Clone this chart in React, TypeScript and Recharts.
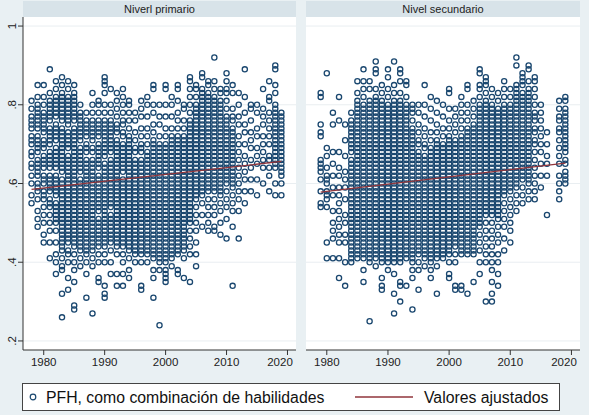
import { ScatterChart, Scatter, XAxis, YAxis, CartesianGrid } from 'recharts';

// Años (eje x) de cada columna de puntos
const years = [
  1978, 1979, 1980, 1981, 1982, 1983, 1984, 1985, 1986, 1987, 1988, 1989, 1990, 1991,
  1992, 1993, 1994, 1995, 1996, 1997, 1998, 1999, 2000, 2001, 2002, 2003, 2004, 2005,
  2006, 2007, 2008, 2009, 2010, 2011, 2012, 2013, 2014, 2015, 2016, 2017, 2018, 2019,
];

// PFH en centésimas, una cadena por año (mismo orden que years)
const primario = [
  '81 79 77 76 75 74 72 71 70 68 67 65 64 62 60 57 55',
  '85 82 80 79 78 77 76 75 74 72 71 70 69 68 66 65 64 63 62 60 59 58 56 53 51 49',
  '85 82 80 78 77 76 75 74 73 71 70 69 67 66 65 64 62 61 60 58 57 56 54 52 50 47 45',
  '89 83 81 80 79 78 77 76 74 73 72 71 70 68 67 66 65 64 62 61 60 59 58 56 55 54 52 50 48 45 41',
  '86 84 82 81 80 79 78 77 75 74 73 72 71 69 68 67 66 65 64 62 61 60 59 58 57 55 54 53 52 51 50 48 45 42 40 37',
  '87 85 83 82 81 80 79 78 77 76 74 73 72 71 70 69 68 67 66 65 64 63 61 60 59 58 57 56 55 54 53 52 51 50 49 48 47 46 45 44 43 41 39 38 32 26',
  '86 84 82 81 80 79 78 77 76 75 73 72 71 70 69 67 66 65 64 63 62 61 60 59 58 57 56 55 54 53 52 51 50 49 48 47 46 45 43 42 40 36 33',
  '85 83 82 81 80 79 78 77 76 74 73 72 71 70 69 68 67 66 65 64 63 62 61 60 59 58 57 56 55 54 53 52 51 50 49 48 47 46 45 44 42 40 38 35 29 28',
  '80 78 77 76 75 74 73 72 71 69 68 67 66 65 64 63 61 60 59 58 57 56 55 54 53 52 51 50 49 48 47 46 45 44 43 41 39',
  '78 76 75 74 73 72 70 69 68 66 65 64 63 62 61 60 59 58 57 56 55 54 53 52 51 50 49 48 47 46 45 44 43 42 40 37 31',
  '83 80 78 76 75 74 73 72 71 69 68 66 65 64 63 62 61 60 59 58 57 56 55 54 53 52 51 50 49 48 47 46 45 44 43 41 39 27',
  '81 80 78 76 75 74 73 72 70 69 68 67 66 65 64 62 61 60 59 58 57 56 55 54 53 51 50 49 48 47 46 45 44 42 40 36 35',
  '87 86 85 83 80 78 76 75 74 73 72 71 70 69 68 67 65 64 63 62 61 60 59 58 57 56 55 54 53 52 51 50 49 48 47 46 45 44 42 40 34 32 31',
  '84 80 78 76 75 74 73 72 71 70 69 68 66 65 64 63 62 61 60 59 58 57 56 55 54 52 51 50 49 48 47 46 45 43 40 37',
  '83 81 79 77 75 74 73 71 70 69 68 67 66 65 64 63 62 61 60 59 58 57 56 55 54 53 52 51 50 49 48 47 46 45 44 42 37 34',
  '84 82 80 78 76 75 73 72 70 69 68 67 66 65 64 63 61 60 59 58 57 56 55 54 53 52 51 50 49 48 47 46 45 44 42 40 37 34',
  '81 80 78 76 74 72 71 70 69 68 67 66 65 64 63 62 61 60 59 58 57 56 55 54 53 52 51 50 49 48 47 46 45 44 43 41 38 36',
  '78 76 73 71 69 68 66 65 64 63 62 61 60 59 58 57 56 55 54 53 52 51 50 49 48 47 46 45 44 43 42 40',
  '81 79 77 74 72 70 69 68 66 65 64 63 62 61 60 59 58 57 56 55 54 53 52 51 50 49 48 47 46 45 44 43 42 40 34 33',
  '82 80 77 74 72 70 68 67 66 65 64 63 62 61 60 59 58 57 56 55 54 53 52 51 50 49 48 47 46 45 44 43 42 40',
  '85 84 80 78 75 73 71 70 69 68 67 66 65 64 63 62 61 60 59 58 57 56 55 54 53 52 51 50 49 48 47 46 45 44 43 42 41 38 36 31',
  '80 77 75 72 70 69 68 67 66 65 64 63 62 61 60 59 58 57 56 55 54 53 52 51 50 49 48 47 46 45 44 43 42 41 40 38 24',
  '85 84 80 77 74 72 70 69 68 67 66 65 64 63 62 61 60 59 58 57 56 55 54 53 52 51 50 49 48 47 46 45 44 43 42 41 40 38 37 36 35',
  '82 80 77 74 72 71 70 69 68 67 66 65 64 63 62 61 60 59 58 57 56 55 54 53 52 51 50 49 48 47 46 45 44 43 42 41 39',
  '85 84 81 78 76 74 72 71 70 69 68 67 66 65 64 63 62 61 60 59 58 57 56 55 54 53 52 51 50 49 48 47 46 45 44 43 42 38 37',
  '80 79 76 74 72 71 70 69 68 67 66 65 64 63 62 61 60 59 58 57 56 55 54 53 52 51 50 49 48 47 46 45 44 43 41 36',
  '87 86 84 82 80 78 76 75 74 73 72 71 70 69 68 67 66 65 64 63 62 61 60 59 58 57 56 55 54 53 52 51 50 48 46 44 42 35',
  '85 84 82 80 79 78 77 76 75 74 73 72 71 70 69 68 67 66 65 64 63 62 61 60 59 58 57 56 54 52 50 48 45 42 39',
  '88 87 84 83 82 81 80 79 78 77 76 75 74 73 72 71 70 69 68 67 66 65 64 63 62 61 60 59 58 57 55 52 49',
  '86 85 83 82 81 80 79 78 77 76 75 74 73 72 71 70 69 68 67 66 65 64 63 62 61 60 59 58 56 54 52 50 48',
  '92 86 84 82 81 80 79 78 77 76 75 74 73 72 71 70 69 68 67 66 65 64 63 62 61 60 59 58 56 54 52 49 48',
  '84 83 81 80 79 78 77 76 75 74 73 72 71 70 69 68 67 66 65 64 63 62 61 60 59 58 57 55 53 50 47',
  '88 86 84 83 81 79 77 76 75 74 73 72 71 70 69 68 67 66 65 64 63 62 61 60 58 56 54 51 46',
  '85 83 79 77 76 74 73 72 71 70 69 68 67 66 65 64 63 62 61 60 59 57 55 53 49 34',
  '83 80 77 75 72 70 68 66 64 62 60 58 56 53 46',
  '89 82 78 75 73 70 67 65 63 61 58 55',
  '80 79 76 73 71 69 66 64 61 58',
  '80 78 74 72 69 67 65 61 57',
  '84 79 77 75 72 70 68 66 64 60',
  '86 82 81 78 76 74 72 70 67 66 64 62 58',
  '90 89 85 83 80 79 78 77 76 75 74 73 72 71 70 69 68 67 66 65 64 60 57',
  '78 77 76 75 74 73 72 71 70 69 68 67 66 65 64 63 62 60 57',
];

const secundario = [
  '',
  '83 82 75 73 72 66 65 64 63 61 58 55 54',
  '88 69 67 64 62 61 60 58 57 56 54 45 41',
  '78 75 68 65 62 59 57 53 50 48 46 41',
  '82 76 68 64 62 59 57 55 53 51 49 47 45 41 36',
  '75 71 67 63 61 59 56 52 50 47 45 40 34',
  '78 76 75 74 73 72 71 70 69 68 66 65 64 63 62 61 60 59 58 57 56 55 54 53 52 51 50 49 48 47 46 45 44 43 42 41 40',
  '86 83 81 80 79 78 77 76 75 74 73 72 71 70 69 68 67 66 65 64 63 62 61 60 59 58 57 56 55 54 53 52 51 50 49 48 47 46 45 44 43 42 41',
  '89 86 84 82 80 79 78 77 76 75 74 73 72 71 70 69 68 67 66 65 64 63 62 61 60 59 58 57 56 55 54 53 52 51 50 49 48 47 46 45 44 43 42 41 38 35',
  '86 84 81 80 79 78 77 76 75 74 73 72 71 70 69 68 67 66 65 64 63 62 61 60 59 58 57 56 55 54 53 52 51 50 49 48 47 46 45 44 43 42 41 40 25',
  '91 89 88 84 82 81 80 79 78 77 76 75 74 73 72 71 70 69 68 67 66 65 64 63 62 61 60 59 58 57 56 55 54 53 52 51 50 49 48 47 46 45 44 43 42 41 39',
  '85 83 81 80 79 78 77 76 75 74 73 72 71 70 69 68 67 66 65 64 63 62 61 60 59 58 57 56 55 54 53 52 51 50 49 48 47 46 45 44 43 42 41 40 36 34 33',
  '89 87 84 82 80 79 78 77 76 75 74 73 72 71 70 69 68 67 66 65 64 63 62 61 60 59 58 57 56 55 54 53 52 51 50 49 48 47 46 45 44 43 42 41 40 38',
  '91 85 83 81 80 79 78 77 76 75 74 73 72 71 70 69 68 67 66 65 64 63 62 61 60 59 58 57 56 55 54 53 52 51 50 49 48 47 46 45 44 43 42 41 40 37 32 27',
  '89 88 86 83 81 80 79 78 77 76 75 74 73 72 71 70 69 68 67 66 65 64 63 62 61 60 59 58 57 56 55 54 53 52 51 50 49 48 47 46 45 44 43 42 41 40 35 34 30',
  '86 85 82 80 79 78 77 76 75 74 73 72 71 70 69 68 67 66 65 64 63 62 61 60 59 58 57 56 55 54 53 52 51 50 49 48 47 46 45 44 43 42 41 34',
  '80 79 78 76 74 73 72 71 70 69 68 67 66 65 64 63 62 61 60 59 58 57 56 55 54 53 52 51 50 49 48 47 46 45 44 43 42 41 40 38 36 28',
  '80 78 75 73 71 70 68 67 66 65 64 63 62 61 60 59 58 57 56 55 54 53 52 51 50 49 48 47 46 45 44 43 42 40 38 33',
  '85 80 77 74 72 70 69 67 66 65 64 63 62 61 60 59 58 57 56 55 54 53 52 51 50 49 48 47 46 45 44 43 42 41 39',
  '82 79 76 73 71 69 68 67 66 65 64 63 62 61 60 59 58 57 56 55 54 53 52 51 50 49 48 47 46 45 44 43 42 41 40 38 36',
  '81 78 75 73 71 70 69 68 67 66 65 64 63 62 61 60 59 58 57 56 55 54 53 52 51 50 49 48 47 46 45 44 43 42 41 39 32',
  '80 77 74 72 70 69 68 67 66 65 64 63 62 61 60 59 58 57 56 55 54 53 52 51 50 49 48 47 46 45 44 43 42 41',
  '84 83 79 76 74 72 71 70 69 68 67 66 65 64 63 62 61 60 59 58 57 56 55 54 53 52 51 50 49 48 47 46 45 44 43 42 40 37 36',
  '79 77 75 73 71 70 69 68 67 66 65 64 63 62 61 60 59 58 57 56 55 54 53 52 51 50 49 48 47 46 45 44 42 40 34 33',
  '82 80 78 76 74 72 71 70 69 68 67 66 65 64 63 62 61 60 59 58 57 56 55 54 53 52 51 50 49 48 47 46 45 44 43 42 34 33',
  '85 84 80 78 76 74 73 72 71 70 69 68 67 66 65 64 63 62 61 60 59 58 57 56 55 54 53 52 51 50 49 48 47 46 45 44 43 42 32',
  '81 79 77 75 74 73 72 71 70 69 68 67 66 65 64 63 62 61 60 59 58 57 56 55 54 53 52 51 50 49 48 47 46 45 44 43 42 35',
  '89 88 85 84 82 80 79 78 77 76 75 74 73 72 71 70 69 68 67 66 65 64 63 62 61 60 59 58 57 56 55 54 53 52 51 50 49 47 45 43 40 37',
  '87 86 85 83 81 80 79 78 77 76 75 74 73 72 71 70 69 68 67 66 65 64 63 62 61 60 59 58 57 56 55 54 53 52 50 48 46 44 42 40 30',
  '84 82 80 79 78 77 76 75 74 73 72 71 70 69 68 67 66 65 64 63 62 61 60 59 58 57 56 55 54 53 52 50 48 46 44 42 40 38 35 32 30',
  '83 81 79 78 77 76 75 74 73 72 71 70 69 68 67 66 65 64 63 62 61 60 59 58 57 56 55 54 53 52 51 49 47 45 42 40 37 34',
  '86 84 82 80 79 78 77 76 75 74 73 72 71 70 69 68 67 66 65 64 63 62 61 60 59 58 57 55 53 51 49 46 43',
  '84 82 80 79 78 77 76 75 74 73 72 71 70 69 68 67 66 65 64 63 62 61 60 59 58 56 54 52 50 48 45',
  '92 90 85 84 83 82 81 80 79 78 77 76 75 74 73 72 71 70 69 68 67 66 65 64 63 62 61 60 59 57 55 53',
  '88 87 86 85 83 82 81 80 79 78 77 76 75 74 73 72 71 70 69 68 67 66 65 64 63 62 61 59 57 55',
  '90 89 86 84 83 82 81 80 79 78 77 76 75 74 73 72 71 70 69 68 67 66 65 64 63 62 61 60 58 56',
  '87 86 84 82 80 78 77 76 74 73 71 70 68 66 64 62 60 58 56',
  '80 78 76 74 72 70 68 65 62 59',
  '73 70 67 65 62 52',
  '',
  '81 79 77 76 74 73 71 69 67 65 62 60 58 56',
  '82 81 79 78 77 76 75 74 73 72 71 70 69 68 66 65 63 62 61 60',
];

// Valores ajustados (recta de regresión) en sus extremos
const fitYearsPrimario = [1978, 2019];
const fitPrimario = [0.585, 0.656];
const fitYearsSecundario = [1979, 2019];
const fitSecundario = [0.578, 0.652];

const xTicks = [1980, 1990, 2000, 2010, 2020];
const yTicks = [0.2, 0.4, 0.6, 0.8, 1];
const yTickLabels = ['.2', '.4', '.6', '.8', '1'];

const FONT = '"Liberation Sans", Arial, sans-serif';
const NAVY = '#1a476f';
const MAROON = '#90353b';
const X_DOMAIN = [1976.6, 2021.4];
const Y_DOMAIN = [0.177, 1.023];

function toPoints(cols: string[]) {
  return years.flatMap((yr, i) =>
    cols[i]
      .split(' ')
      .filter(Boolean)
      .map((s) => ({ x: yr, y: Number(s) / 100 }))
  );
}

function toFit(xs: number[], ys: number[]) {
  return xs.map((x, i) => ({ x, y: ys[i] }));
}

const HollowCircle = (props: any) => (
  <circle cx={props.cx} cy={props.cy} r={2.6} fill="none" stroke={NAVY} strokeWidth={1.3} />
);

const NoShape = () => <g />;

const XTick = ({ x, y, payload }: any) => (
  <text x={x} y={y} dy="0.71em" textAnchor="middle" fontSize={11.5} fill="#222" fontFamily={FONT}>
    {payload.value}
  </text>
);

const YTick = ({ y, payload }: any) => {
  const i = yTicks.indexOf(payload.value);
  return (
    <text
      x={16.5}
      y={y}
      textAnchor="middle"
      fontSize={11.5}
      fill="#222"
      fontFamily={FONT}
      transform={`rotate(-90, 16.5, ${y})`}
    >
      {i >= 0 ? yTickLabels[i] : payload.value}
    </text>
  );
};

function Panel({
  title,
  points,
  fit,
  left,
  width,
  showY,
}: {
  title: string;
  points: { x: number; y: number }[];
  fit: { x: number; y: number }[];
  left: number;
  width: number;
  showY: boolean;
}) {
  const yw = showY ? 23 : 0;
  return (
    <div style={{ position: 'absolute', left, top: 0 }}>
      <div
        style={{
          position: 'absolute',
          left: yw,
          top: 1,
          width: width - yw,
          height: 16,
          background: '#d8e3e9',
          textAlign: 'center',
          fontFamily: FONT,
          fontSize: 11,
          lineHeight: '16px',
          color: '#222',
        }}
      >
        {title}
      </div>
      <ScatterChart width={width} height={372} margin={{ top: 17, right: 0, bottom: 0, left: 0 }}>
        <CartesianGrid vertical={false} fill="#ffffff" stroke="#e9eef1" horizontalValues={yTicks} />
        <XAxis
          type="number"
          dataKey="x"
          domain={X_DOMAIN}
          ticks={xTicks}
          allowDataOverflow
          height={22}
          tickSize={5}
          tickMargin={3}
          stroke="#333"
          tick={<XTick />}
        />
        <YAxis
          type="number"
          dataKey="y"
          domain={Y_DOMAIN}
          ticks={yTicks}
          allowDataOverflow
          hide={!showY}
          width={yw}
          tickSize={5}
          stroke="#333"
          tick={<YTick />}
        />
        <Scatter data={points} shape={<HollowCircle />} isAnimationActive={false} />
        <Scatter
          data={fit}
          shape={<NoShape />}
          line={{ stroke: MAROON, strokeWidth: 1.3 }}
          isAnimationActive={false}
        />
      </ScatterChart>
    </div>
  );
}

export default function App() {
  const primPts = toPoints(primario);
  const secPts = toPoints(secundario);
  return (
    <div
      style={{
        position: 'absolute',
        left: 0,
        top: 0,
        width: 589,
        height: 415,
        background: '#e9f0f3',
        overflow: 'hidden',
      }}
    >
      <Panel
        title="Niverl primario"
        points={primPts}
        fit={toFit(fitYearsPrimario, fitPrimario)}
        left={0}
        width={296}
        showY
      />
      <Panel
        title="Nivel secundario"
        points={secPts}
        fit={toFit(fitYearsSecundario, fitSecundario)}
        left={306}
        width={274}
        showY={false}
      />
      <div
        style={{
          position: 'absolute',
          left: 22,
          top: 383,
          width: 536,
          height: 26,
          background: '#fff',
          border: '1px solid #444',
        }}
      >
        <svg width={536} height={26} style={{ position: 'absolute', left: 0, top: 0 }}>
          <circle cx={10} cy={13} r={2.8} fill="none" stroke={NAVY} strokeWidth={1.2} />
          <text x={23} y={19} fontSize={15.8} fill="#111" fontFamily={FONT}>
            PFH, como combinación de habilidades
          </text>
          <line x1={332} x2={390} y1={13} y2={13} stroke={MAROON} strokeWidth={1.3} />
          <text x={401} y={19} fontSize={15.8} fill="#111" fontFamily={FONT}>
            Valores ajustados
          </text>
        </svg>
      </div>
    </div>
  );
}
